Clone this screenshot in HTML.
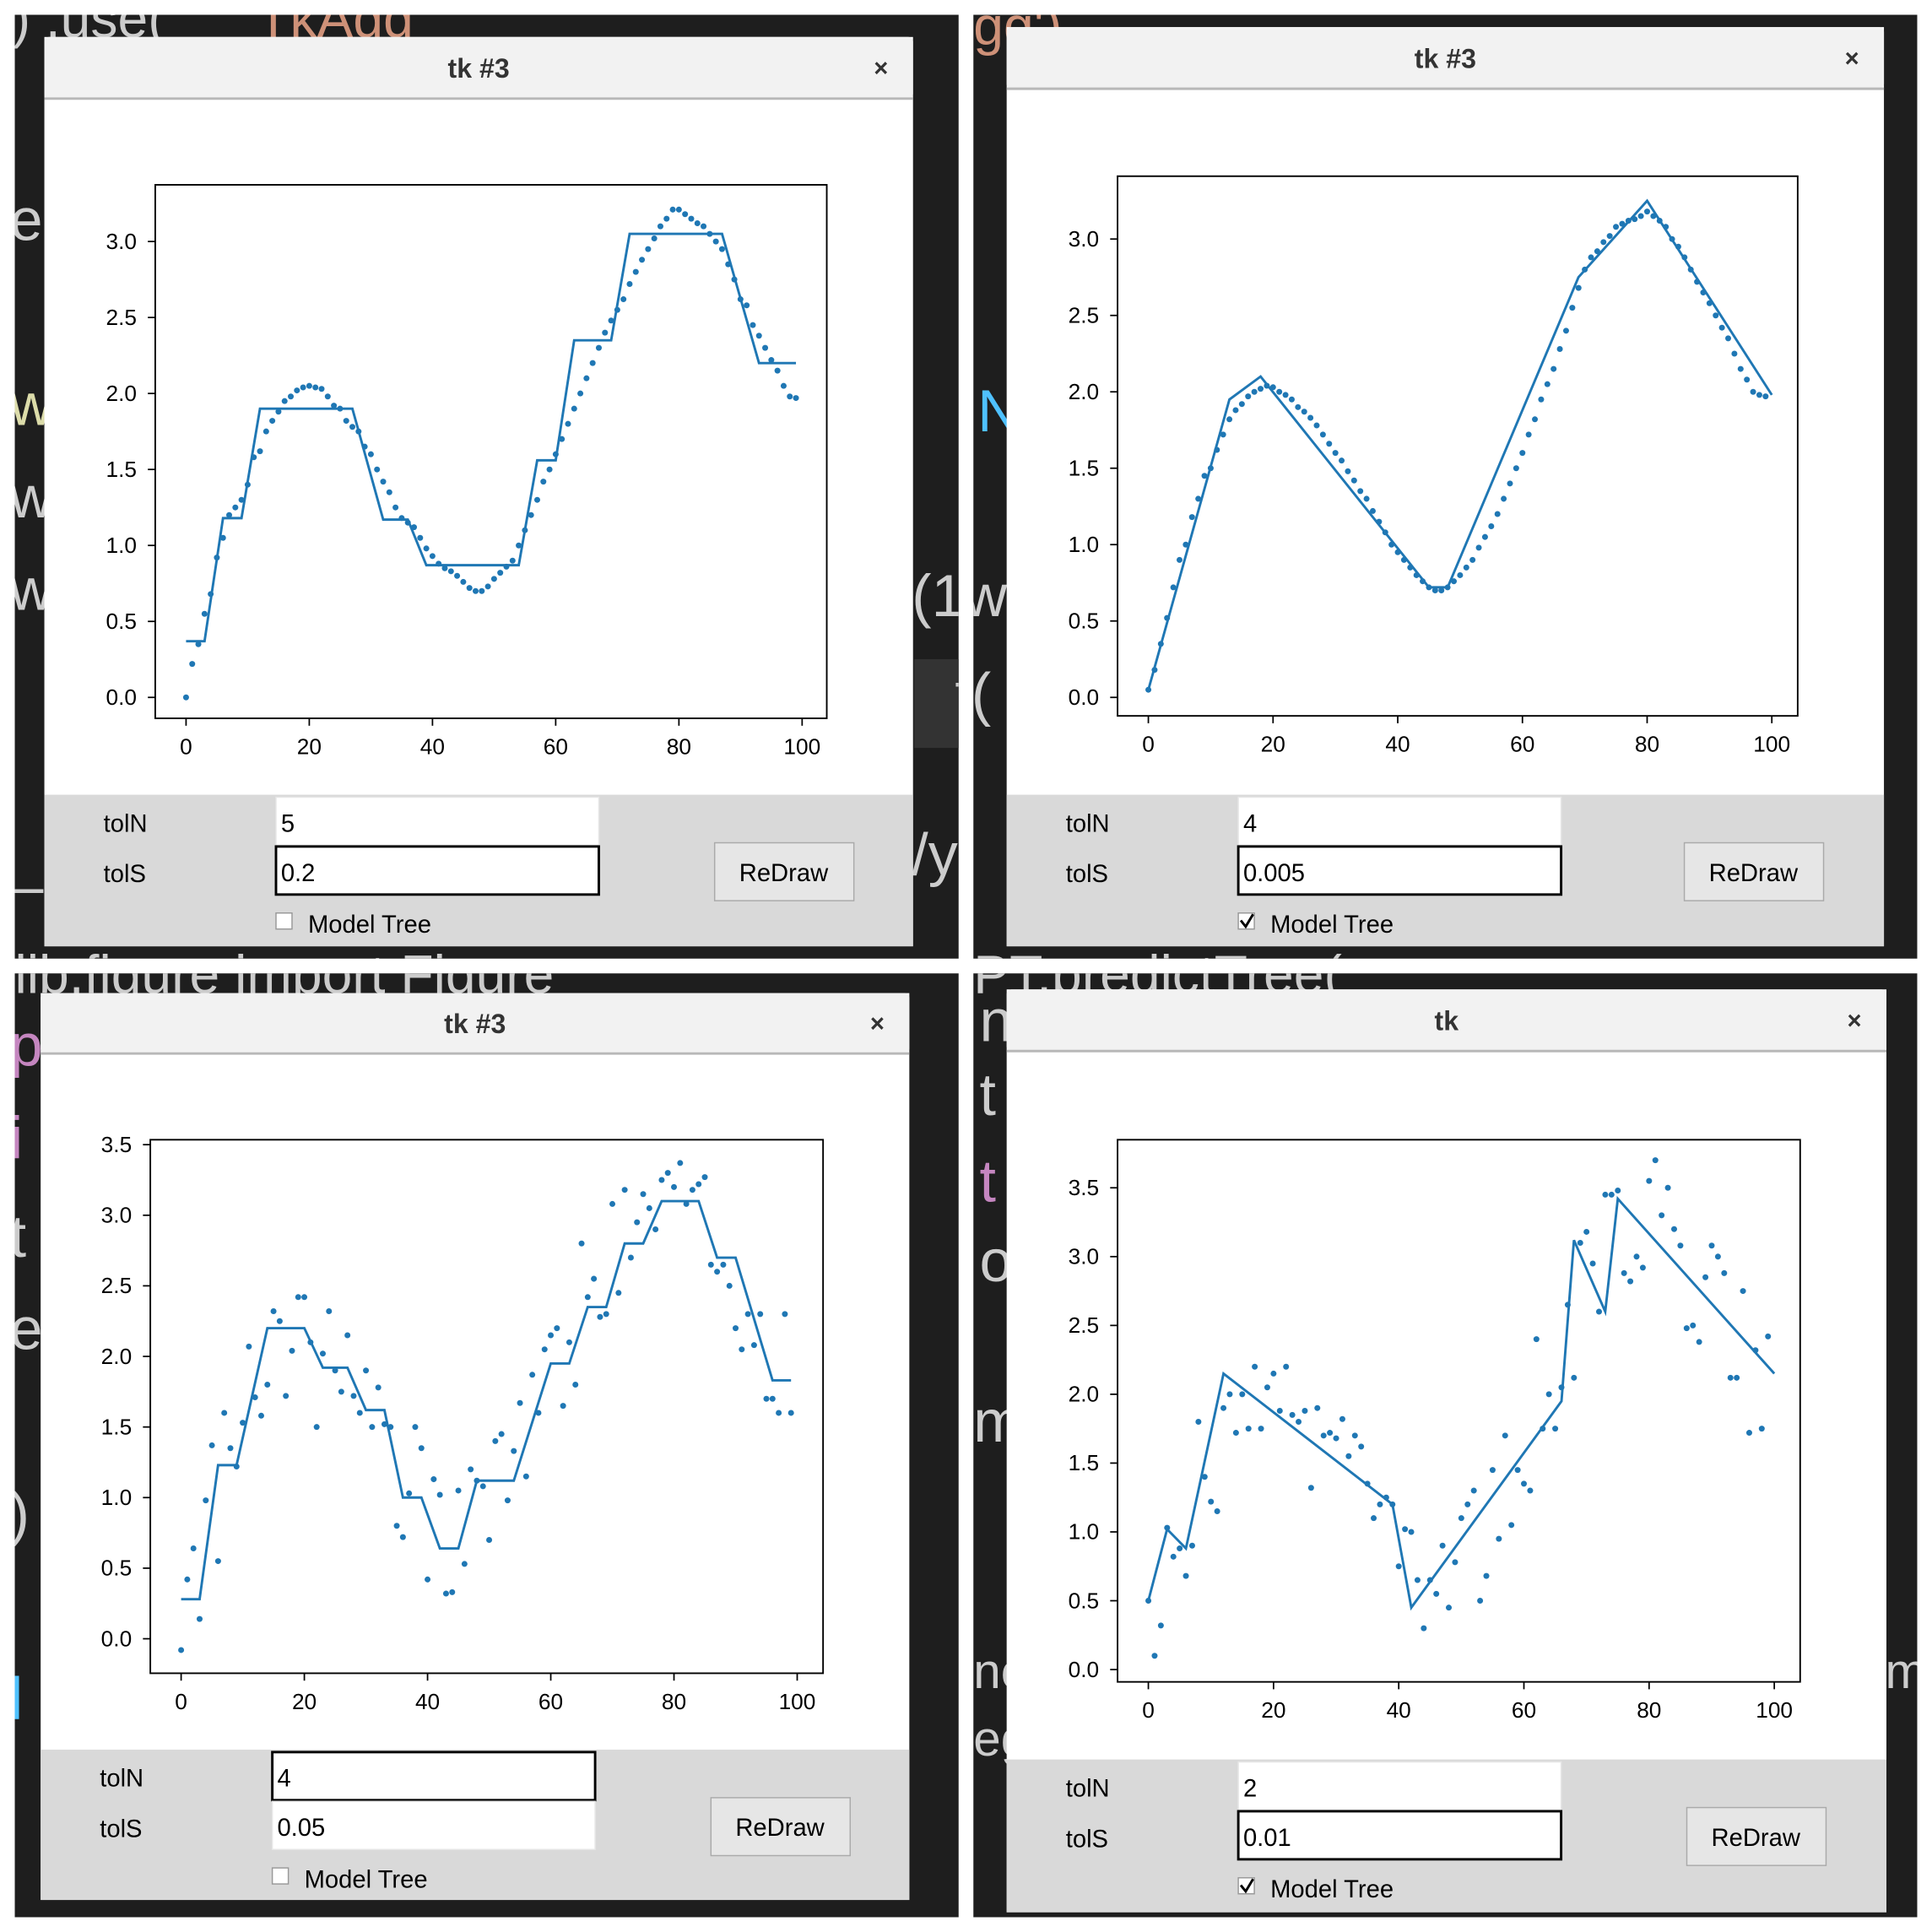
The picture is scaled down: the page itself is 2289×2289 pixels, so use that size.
<!DOCTYPE html>
<html><head><meta charset="utf-8">
<style>
html,body{margin:0;padding:0;background:#fff;}
svg{display:block;}
text{font-family:"Liberation Sans","DejaVu Sans",sans-serif;}
</style></head>
<body>
<svg id="root" width="2289" height="2289" viewBox="0 0 1568 1568" xmlns="http://www.w3.org/2000/svg">
<defs>
<clipPath id="darkclip">
<rect x="12" y="12" width="766" height="766"/>
<rect x="790" y="12" width="766" height="766"/>
<rect x="12" y="790" width="766" height="766"/>
<rect x="790" y="790" width="766" height="766"/>
</clipPath>
</defs>
<rect x="0" y="0" width="1568" height="1568" fill="#ffffff"/>
<g>
<rect x="12" y="12" width="766" height="766" fill="#1e1e1e"/>
<rect x="790" y="12" width="766" height="766" fill="#1e1e1e"/>
<rect x="12" y="790" width="766" height="766" fill="#1e1e1e"/>
<rect x="790" y="790" width="766" height="766" fill="#1e1e1e"/>
<rect x="742" y="535" width="36" height="72" fill="#333"/>
<g clip-path="url(#darkclip)">
<text x="10" y="30" font-size="44" fill="#ccc">) .use(</text>
<text x="200" y="30" font-size="44" fill="#ce9178">'TkAgg'</text>
<text x="790" y="36" font-size="44" fill="#ce9178">gg')</text>
<text x="8" y="195" font-size="48" fill="#ccc">ec</text>
<text x="8" y="345" font-size="48" fill="#dcdcaa">w(</text>
<text x="8" y="420" font-size="48" fill="#ccc">w.</text>
<text x="8" y="495" font-size="48" fill="#ccc">w.</text>
<text x="8" y="715" font-size="48" fill="#ccc">_c</text>
<text x="780" y="350" font-size="48" fill="#4fc1ff">.N</text>
<text x="740" y="500" font-size="48" fill="#ccc">(1w</text>
<text x="775" y="580" font-size="48" fill="#ccc">t(</text>
<text x="740" y="710" font-size="48" fill="#ccc">/y</text>
<text x="790" y="806" font-size="44" fill="#ccc">PT.predictTree(</text>
<text x="12" y="806" font-size="44" fill="#ccc">lib.figure import Figure</text>
<text x="8" y="865" font-size="48" fill="#c586c0">p</text>
<text x="8" y="940" font-size="48" fill="#c586c0">i</text>
<text x="8" y="1020" font-size="48" fill="#ccc">t</text>
<text x="8" y="1095" font-size="48" fill="#ccc">e</text>
<text x="8" y="1245" font-size="48" fill="#ccc">)</text>
<text x="8" y="1395" font-size="48" fill="#4fc1ff">l</text>
<text x="795" y="845" font-size="48" fill="#ccc">n</text>
<text x="795" y="905" font-size="48" fill="#ccc">t</text>
<text x="795" y="975" font-size="48" fill="#c586c0">t</text>
<text x="795" y="1040" font-size="48" fill="#ccc">o</text>
<text x="790" y="1170" font-size="48" fill="#ccc">m</text>
<text x="790" y="1370" font-size="40" fill="#ccc">no</text>
<text x="790" y="1425" font-size="40" fill="#ccc">eg</text>
<text x="1530" y="1370" font-size="40" fill="#ccc">me</text>
</g>
</g>
<g id="windows"></g>
</svg>
<script>
// ---- Data arrays ----
const xs = [];
for (let i = 0; i < 100; i++) xs.push(i);
const p1Points = [0.0,0.22,0.35,0.55,0.68,0.92,1.05,1.2,1.25,1.3,1.4,1.58,1.62,1.75,1.82,1.88,1.95,1.98,2.02,2.04,2.05,2.04,2.03,1.98,1.92,1.9,1.82,1.78,1.75,1.65,1.6,1.5,1.42,1.35,1.25,1.18,1.15,1.12,1.05,0.98,0.93,0.88,0.85,0.83,0.8,0.76,0.72,0.7,0.7,0.73,0.78,0.82,0.86,0.9,1.0,1.1,1.2,1.3,1.42,1.5,1.6,1.7,1.8,1.9,2.0,2.1,2.2,2.3,2.4,2.48,2.55,2.62,2.72,2.8,2.88,2.95,3.02,3.1,3.15,3.21,3.21,3.18,3.15,3.12,3.1,3.05,3.0,2.95,2.85,2.75,2.62,2.58,2.45,2.38,2.3,2.22,2.15,2.05,1.98,1.97];
const p1LineX = [0,3,6,9,12,27,32,36,39,54,57,60,63,69,72,87,93,99];
const p1LineY = [0.37,0.37,1.18,1.18,1.9,1.9,1.17,1.17,0.87,0.87,1.56,1.56,2.35,2.35,3.05,3.05,2.2,2.2];
const p2Points = [0.05,0.18,0.35,0.52,0.72,0.9,1.0,1.18,1.3,1.45,1.5,1.62,1.72,1.82,1.88,1.92,1.97,2.0,2.02,2.04,2.03,2.0,1.98,1.95,1.9,1.87,1.83,1.78,1.72,1.66,1.6,1.55,1.48,1.42,1.35,1.3,1.22,1.15,1.08,1.0,0.95,0.9,0.85,0.8,0.76,0.72,0.7,0.7,0.72,0.76,0.8,0.85,0.9,0.98,1.05,1.12,1.2,1.3,1.4,1.5,1.6,1.72,1.82,1.95,2.05,2.15,2.28,2.4,2.55,2.68,2.8,2.88,2.92,2.98,3.02,3.08,3.1,3.12,3.13,3.15,3.18,3.15,3.12,3.08,3.0,2.95,2.88,2.8,2.72,2.65,2.58,2.5,2.42,2.35,2.25,2.15,2.08,2.0,1.98,1.97];
const p2LineX = [0,13,18,45,48,69,80,100];
const p2LineY = [0.05,1.95,2.1,0.72,0.72,2.75,3.25,1.98];
const p3Points = [-0.08,0.42,0.64,0.14,0.98,1.37,0.55,1.6,1.35,1.22,1.53,2.07,1.71,1.58,1.8,2.32,2.25,1.72,2.04,2.42,2.42,2.1,1.5,2.02,2.32,1.9,1.75,2.15,1.72,1.6,1.9,1.5,1.78,1.52,1.5,0.8,0.72,1.03,1.5,1.35,0.42,1.13,1.02,0.32,0.33,1.05,0.53,1.2,1.12,1.08,0.7,1.4,1.45,0.98,1.33,1.67,1.15,1.87,1.6,2.05,2.15,2.2,1.65,2.1,1.8,2.8,2.42,2.55,2.28,2.3,3.08,2.45,3.18,2.7,2.95,3.15,3.05,2.9,3.25,3.3,3.2,3.37,3.08,3.18,3.22,3.27,2.65,2.6,2.65,2.5,2.2,2.05,2.3,2.08,2.3,1.7,1.7,1.6,2.3,1.6];
const p3LineX = [0,3,6,9,14,20,23,27,30,33,36,39,42,45,48,54,60,63,66,69,72,75,78,84,87,90,96,99];
const p3LineY = [0.28,0.28,1.23,1.23,2.2,2.2,1.92,1.92,1.62,1.62,1.0,1.0,0.64,0.64,1.12,1.12,1.95,1.95,2.35,2.35,2.8,2.8,3.1,3.1,2.7,2.7,1.83,1.83];
const p4Points = [0.5,0.1,0.32,1.03,0.82,0.88,0.68,0.9,1.8,1.4,1.22,1.15,1.9,2.0,1.72,2.0,1.75,2.2,1.75,2.05,2.15,1.88,2.2,1.85,1.8,1.88,1.32,1.9,1.7,1.72,1.68,1.82,1.55,1.7,1.62,1.35,1.1,1.2,1.25,1.2,0.75,1.02,1.0,0.65,0.3,0.65,0.55,0.9,0.45,0.78,1.1,1.2,1.3,0.5,0.68,1.45,0.95,1.7,1.05,1.45,1.35,1.3,2.4,1.75,2.0,1.75,2.05,2.65,2.12,3.1,3.18,2.95,2.6,3.45,3.45,3.48,2.88,2.82,3.0,2.92,3.55,3.7,3.3,3.5,3.2,3.08,2.48,2.5,2.38,2.85,3.08,3.0,2.88,2.12,2.12,2.75,1.72,2.32,1.75,2.42];
const p4LineX = [0,3,6,12,39,42,66,68,73,75,100];
const p4LineY = [0.5,1.02,0.88,2.15,1.2,0.45,1.95,3.12,2.6,3.42,2.15];
const xTicks = [0,20,40,60,80,100];
const yTicksA = [0.0,0.5,1.0,1.5,2.0,2.5,3.0];
const yTicksB = [0.0,0.5,1.0,1.5,2.0,2.5,3.0,3.5];

const NS = "http://www.w3.org/2000/svg";
function mk(tag, attrs, parent, txt) {
  const e = document.createElementNS(NS, tag);
  for (const k in attrs) e.setAttribute(k, attrs[k]);
  if (txt !== undefined) e.textContent = txt;
  parent.appendChild(e);
  return e;
}
const root = document.getElementById('windows');

const wins = [
 {title:"tk #3", wx:36, wy:30, ww:705, wh:738, tb:50, ctrl:645, ax:[126,150,671,583], x0:151,x100:651, y0:566, yRef:3.0, yRefPx:196, yt:yTicksA, pts:p1Points, lx:p1LineX, ly:p1LineY, tolN:"5", tolS:"0.2", focus:"s", checked:false, bx:544},
 {title:"tk #3", wx:817, wy:22, ww:712, wh:746, tb:50, ctrl:645, ax:[907,143,1459,581], x0:932,x100:1438, y0:566, yRef:3.0, yRefPx:194, yt:yTicksA, pts:p2Points, lx:p2LineX, ly:p2LineY, tolN:"4", tolS:"0.005", focus:"s", checked:true, bx:550},
 {title:"tk #3", wx:33, wy:806, ww:705, wh:736, tb:49, ctrl:1420, ax:[122,925,668,1358], x0:147,x100:647, y0:1330, yRef:3.5, yRefPx:929, yt:yTicksB, pts:p3Points, lx:p3LineX, ly:p3LineY, tolN:"4", tolS:"0.05", focus:"n", checked:false, bx:544},
 {title:"tk", wx:817, wy:803, ww:714, wh:749, tb:50, ctrl:1428, ax:[907,925,1461,1365], x0:932,x100:1440, y0:1355, yRef:3.5, yRefPx:964, yt:yTicksB, pts:p4Points, lx:p4LineX, ly:p4LineY, tolN:"2", tolS:"0.01", focus:"s", checked:true, bx:552}
];

wins.forEach((w, wi) => {
  const g = mk('g', {}, root);
  
  
  mk('rect', {x:w.wx, y:w.wy, width:w.ww, height:w.wh, fill:'#ffffff'}, g);
  const tb = mk('rect', {x:w.wx, y:w.wy, width:w.ww, height:w.tb, fill:'#f2f2f2', rx:4}, g);
  
  
  mk('line', {x1:w.wx, x2:w.wx+w.ww, y1:w.wy+w.tb, y2:w.wy+w.tb, stroke:'#b8b8b8', 'stroke-width':2}, g);
  const tt = mk('text', {x:w.wx+w.ww/2, y:w.wy+w.tb/2+8, 'font-size':22, 'font-weight':'bold', fill:'#333', 'text-anchor':'middle'}, g, w.title);
  
  
  const cl = mk('text', {x:w.wx+w.ww-26, y:w.wy+w.tb/2+7, 'font-size':20, 'font-weight':'bold', fill:'#333', 'text-anchor':'middle'}, g, "×");
  
  

  const [L,T,R,B] = w.ax;
  const sx = v => w.x0 + (w.x100 - w.x0) * v / 100;
  const sy = v => w.y0 - (w.y0 - w.yRefPx) * v / w.yRef;
  const frame = mk('rect', {x:L, y:T, width:R-L, height:B-T, fill:'none', stroke:'#000', 'stroke-width':1.3}, g);
  
  
  xTicks.forEach(t => {
    mk('line', {x1:sx(t), x2:sx(t), y1:B, y2:B+6, stroke:'#000', 'stroke-width':1.2}, g);
    const lb = mk('text', {x:sx(t), y:B+29, 'font-size':18, fill:'#000', 'text-anchor':'middle'}, g, String(t));
    
    
  });
  w.yt.forEach(t => {
    mk('line', {x1:L-6, x2:L, y1:sy(t), y2:sy(t), stroke:'#000', 'stroke-width':1.2}, g);
    const lb = mk('text', {x:L-15, y:sy(t)+6, 'font-size':18, fill:'#000', 'text-anchor':'end'}, g, t.toFixed(1));
    
    
  });
  const pg = mk('g', {fill:'#1f77b4'}, g);
  
  
  w.pts.forEach((v, i) => {
    const c = mk('circle', {cx:sx(xs[i]), cy:sy(v), r:2.4}, pg);
    
    
  });
  const d = w.lx.map((x, i) => (i ? 'L' : 'M') + sx(x).toFixed(1) + ',' + sy(w.ly[i]).toFixed(1)).join(' ');
  const ln = mk('path', {d:d, fill:'none', stroke:'#1f77b4', 'stroke-width':2}, g);
  
  

  const cy = w.ctrl;
  const cb = mk('rect', {x:w.wx, y:cy, width:w.ww, height:w.wy+w.wh-cy, fill:'#d9d9d9'}, g);
  
  
  const l1 = mk('text', {x:w.wx+48, y:cy+30, 'font-size':20, fill:'#000'}, g, 'tolN');
  
  
  const l2 = mk('text', {x:w.wx+48, y:cy+71, 'font-size':20, fill:'#000'}, g, 'tolS');
  
  
  const ex = w.wx + 188;
  [['n', w.tolN, 2], ['s', w.tolS, 42]].forEach(([k, val, dy]) => {
    const foc = w.focus === k;
    const e = mk('rect', {x:ex, y:cy+dy, width:262, height:39, fill:'#fff', stroke: foc ? '#000' : '#e6e6e6', 'stroke-width': foc ? 2 : 1}, g);
    
    
    const tv = mk('text', {x:ex+4, y:cy+dy+28, 'font-size':20, fill:'#000'}, g, val);
    
    
  });
  const btn = mk('rect', {x:w.wx+w.bx, y:cy+39, width:113, height:47, fill:'#e6e6e6', stroke:'#aaa', 'stroke-width':1}, g);
  
  
  const bt = mk('text', {x:w.wx+w.bx+56, y:cy+70, 'font-size':20, fill:'#000', 'text-anchor':'middle'}, g, 'ReDraw');
  
  
  const ck = mk('rect', {x:ex, y:cy+96, width:13, height:13, fill:'#fff', stroke:'#999', 'stroke-width':1}, g);
  
  
  if (w.checked) mk('path', {d:`M${ex+2},${cy+102} L${ex+6},${cy+107} L${ex+12},${cy+97}`, fill:'none', stroke:'#000', 'stroke-width':2}, g);
  const ct = mk('text', {x:ex+26, y:cy+112, 'font-size':20, fill:'#000'}, g, 'Model Tree');
  
  
});
</script>
</body></html>
